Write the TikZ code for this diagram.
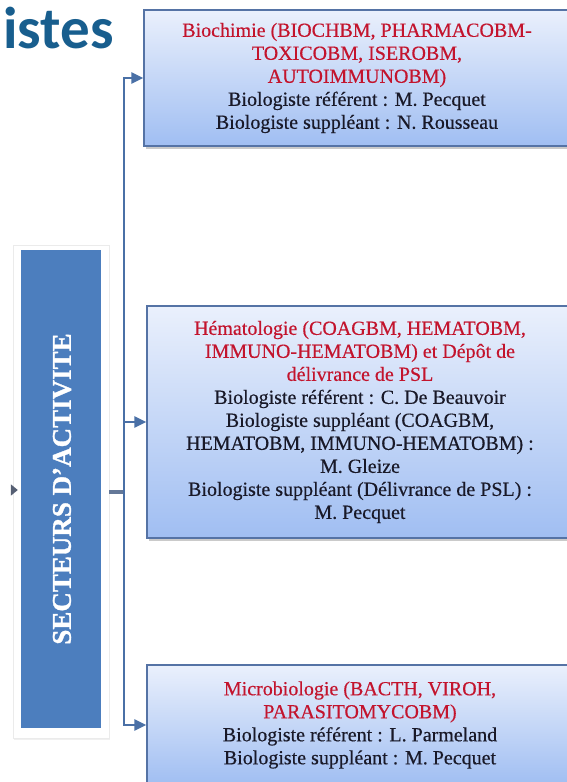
\documentclass[tikz,border=0pt]{standalone}
\usepackage{fontspec}
\setmainfont{Liberation Serif}[BoldFont={Liberation Serif Bold}]
\newfontfamily\boxfont{Liberation Serif}[FakeBold=0.4]
\newfontfamily\panelfont{Liberation Serif Bold}[FakeBold=1.2]
\newfontfamily\titlefont{Carlito}[BoldFont={Carlito Bold}]
\usetikzlibrary{arrows.meta,shadows}
\definecolor{titleblue}{RGB}{24,94,142}
\definecolor{boxtop}{RGB}{234,240,252}
\definecolor{boxbot}{RGB}{160,190,242}
\definecolor{boxedge}{RGB}{85,115,165}
\definecolor{panelblue}{RGB}{76,126,190}
\definecolor{connc}{RGB}{74,112,166}
\definecolor{hubc}{RGB}{100,120,152}
\definecolor{stubc}{RGB}{85,95,115}
\definecolor{redt}{RGB}{195,20,45}
\definecolor{darkt}{RGB}{25,25,40}
\begin{document}
\begin{tikzpicture}[x=1pt,y=-1pt,
  sbox/.style={draw=boxedge, line width=1.5pt, top color=boxtop, bottom color=boxbot,
    drop shadow={shadow xshift=2pt, shadow yshift=-3pt, opacity=.35, fill=black!60},
    align=center, text=darkt, font=\boxfont\fontsize{20}{23}\selectfont,
    minimum width=426pt, inner sep=0pt},
  conn/.style={draw=connc, line width=2.6pt, -{Triangle[length=12pt,width=11pt]}},
  hub/.style={draw=hubc, line width=4pt},
  stub/.style={draw=stubc, line width=2pt, -{Triangle[length=7pt,width=11pt]}, shorten >=3pt}
]
\useasboundingbox (0,0) rectangle (567,782);
\clip (0,0) rectangle (567,782);

\node[anchor=base west, font=\titlefont\bfseries\fontsize{59}{62}\selectfont, text=titleblue, inner sep=0pt] (title) at (3,48) {istes};

% left panel
\node[draw=black!8, fill=white, minimum width=96pt, minimum height=493pt,
  drop shadow={shadow xshift=1pt, shadow yshift=-2pt, opacity=.12, fill=black!50}] (glow) at (61,491.5) {};
\node[fill=panelblue, minimum width=80pt, minimum height=478pt, inner sep=0pt] (panel) at (61,489) {};
\node[rotate=90, text=white, font=\panelfont\fontsize{27}{30}\selectfont] (ptxt) at (62,489) {SECTEURS D’ACTIVITE};

% boxes
\node[sbox, minimum height=136pt] (b1) at (357,78) {%
\textcolor{redt}{Biochimie (BIOCHBM, PHARMACOBM-}\\
\textcolor{redt}{TOXICOBM, ISEROBM,}\\
\textcolor{redt}{AUTOIMMUNOBM)}\\
Biologiste référent : M. Pecquet\\
Biologiste suppléant : N. Rousseau};

\node[sbox, minimum height=232pt] (b2) at (360,422) {%
\textcolor{redt}{Hématologie (COAGBM, HEMATOBM,}\\
\textcolor{redt}{IMMUNO-HEMATOBM) et Dépôt de}\\
\textcolor{redt}{délivrance de PSL}\\
Biologiste référent : C. De Beauvoir\\
Biologiste suppléant (COAGBM,\\
HEMATOBM, IMMUNO-HEMATOBM) :\\
M. Gleize\\
Biologiste suppléant (Délivrance de PSL) :\\
M. Pecquet};

\node[sbox, minimum height=120pt] (b3) at (360,725) {%
\textcolor{redt}{Microbiologie (BACTH, VIROH,}\\
\textcolor{redt}{PARASITOMYCOBM)}\\
Biologiste référent : L. Parmeland\\
Biologiste suppléant : M. Pecquet};

% connectors
\coordinate (j) at (124,492);
\coordinate (ls) at (11,490);
\draw[stub] (ls) -- (ls -| panel.west);
\draw[hub] (glow.east |- j) -- (j);
\draw[conn] (j) |- (b1.west);
\draw[conn] (j) |- (b2.west);
\draw[conn] (j) |- (b3.west);
\end{tikzpicture}
\end{document}
